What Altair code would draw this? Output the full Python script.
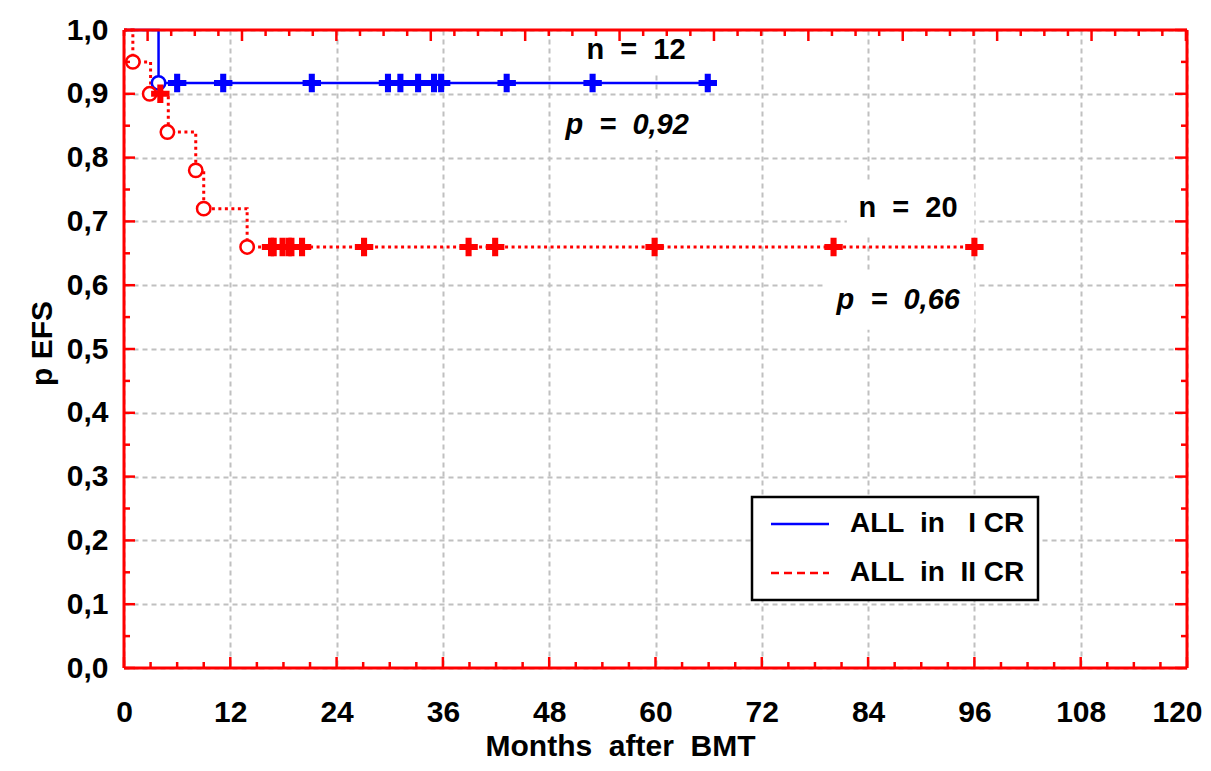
import altair as alt
import pandas as pd
import numpy as np

NB = "\u00a0"
S1 = "ALL" + NB * 2 + "in" + NB * 3 + "I CR"
S2 = "ALL" + NB * 2 + "in" + NB * 2 + "II CR"

# ---- data ----
blue_step_x = [0.0, 3.9, 65.9]
blue_step_y = [1.0, 0.917, 0.917]
blue_event_x = [3.9]
blue_event_y = [0.917]
blue_cens_x = [6.0, 11.2, 21.2, 29.8, 31.2, 33.2, 35.0, 35.8, 43.2, 52.9, 65.9]

red_step_x = [0.0, 1.0, 3.0, 5.0, 8.1, 9.0, 13.9, 96.0]
red_step_y = [1.0, 0.95, 0.90, 0.84, 0.78, 0.72, 0.66, 0.66]
red_event_x = [1.0, 2.9, 4.9, 8.1, 9.0, 13.9]
red_event_y = [0.95, 0.90, 0.84, 0.78, 0.72, 0.66]
red_cens_x = [4.1, 16.6, 16.9, 17.9, 18.6, 18.9, 20.1, 27.1, 38.9, 41.9, 59.9, 80.1, 96.0]
red_cens_y = [0.90] + [0.66] * 12

ann_text = ["n" + NB * 2 + "=" + NB * 2 + "12", "p" + NB * 2 + "=" + NB * 2 + "0,92",
            "n" + NB * 2 + "=" + NB * 2 + "20", "p" + NB * 2 + "=" + NB * 2 + "0,66"]
ann_x = [57.8, 56.8, 88.5, 87.4]
ann_y = [0.969, 0.851, 0.721, 0.577]
ann_italic = [False, True, False, True]
box_x = [50.7, 48.6, 81.6, 78.9]
box_x2 = [65.0, 65.6, 96.0, 96.0]
box_y = [1.0, 0.890, 0.760, 0.619]
box_y2 = [0.934, 0.812, 0.679, 0.530]

BLUE = "#0000ff"
RED = "#ff0000"
FONT = "Liberation Sans"
W, H = 1063, 638
FS = 30

steps = pd.DataFrame({
    "x": blue_step_x + red_step_x,
    "y": blue_step_y + red_step_y,
    "series": [S1] * len(blue_step_x) + [S2] * len(red_step_x),
})
events = pd.DataFrame({
    "x": blue_event_x + red_event_x,
    "y": blue_event_y + red_event_y,
    "series": [S1] * len(blue_event_x) + [S2] * len(red_event_x),
})
cens = pd.DataFrame({
    "x": blue_cens_x + red_cens_x,
    "y": [0.917] * len(blue_cens_x) + red_cens_y,
    "series": [S1] * len(blue_cens_x) + [S2] * len(red_cens_x),
})
ann = pd.DataFrame({"x": ann_x, "y": ann_y, "text": ann_text, "italic": ann_italic})
boxes = pd.DataFrame({"x": box_x, "x2": box_x2, "y": box_y, "y2": box_y2})
# legend-only rows, placed outside the x domain and clipped away
legend_rows = pd.DataFrame({"x": [200, 201, 200, 201], "y": [0.5, 0.5, 0.5, 0.5],
                            "series": [S1, S1, S2, S2]})

xs = alt.Scale(domain=[0, 120], nice=False, zero=False)
ys = alt.Scale(domain=[0, 1], nice=False, zero=False)

xaxis = alt.Axis(
    values=list(range(0, 121, 12)), title="Months" + NB * 2 + "after" + NB * 2 + "BMT",
    labelFont=FONT, labelFontSize=FS, labelFontWeight="bold", labelColor="black",
    labelPadding=44, labelBaseline="middle", labelFlush=False, labelOverlap=False,
    labelOffset={"condition": {"test": "datum.value == 120", "value": -10}, "value": 0},
    ticks=False, tickSize=0, domain=False,
    grid=True, gridColor="#c0c0c0", gridDash=[5, 4], gridWidth=2,
    titleFont=FONT, titleFontSize=FS, titleFontWeight="bold", titleColor="black",
    titleX=496, titleY=78, titleBaseline="middle",
)
yaxis = alt.Axis(
    values=[round(v * 0.1, 1) for v in range(11)], title="p EFS",
    labelExpr="replace(format(datum.value, '.1f'), '.', ',')",
    labelFont=FONT, labelFontSize=FS, labelFontWeight="bold", labelColor="black",
    labelPadding=16, labelFlush=False, labelOverlap=False,
    ticks=False, tickSize=0, domain=False,
    grid=True, gridColor="#c0c0c0", gridDash=[5, 4], gridWidth=2,
    titleFont=FONT, titleFontSize=FS, titleFontWeight="bold", titleColor="black",
    titleX=-82, titleY=313, titleBaseline="middle", titleAngle=-90,
)

X = lambda f="x": alt.X(f"{f}:Q", scale=xs, axis=xaxis)
Y = lambda f="y": alt.Y(f"{f}:Q", scale=ys, axis=yaxis)

col = alt.condition(alt.datum.series == S1, alt.value(BLUE), alt.value(RED))
dash = alt.condition(alt.datum.series == S1, alt.value([1, 0]), alt.value([3, 3.5]))
width = alt.condition(alt.datum.series == S1, alt.value(2.5), alt.value(3))

box_layer = alt.Chart(boxes).mark_rect(fill="white").encode(
    x=X(), x2="x2:Q", y=Y(), y2="y2:Q")

line_layer = alt.Chart(steps).mark_line(interpolate="step-after").encode(
    x=X(), y=Y(), detail="series:N", stroke=col, strokeDash=dash, strokeWidth=width)

legend_sym = "M-2.9,0H2.9"
legend_layer = alt.Chart(legend_rows).mark_line(clip=True, strokeWidth=2.5).encode(
    x=X(), y=Y(),
    color=alt.Color("series:N", scale=alt.Scale(domain=[S1, S2], range=[BLUE, RED]),
                    legend=alt.Legend(
                        title=None, orient="none", legendX=628, legendY=467,
                        symbolType=legend_sym, symbolSize=400, symbolStrokeWidth=2.5,
                        labelFont=FONT, labelFontSize=28, labelFontWeight="bold",
                        labelColor="black", labelLimit=500, labelOffset=36,
                        padding=13, rowPadding=21, strokeColor="black", fillColor="white",
                        symbolOffset=21)),
    strokeDash=alt.StrokeDash("series:N", scale=alt.Scale(domain=[S1, S2], range=[[1, 0], [8, 5]]),
                              legend=alt.Legend(title=None, orient="none", legendX=628, legendY=467,
                                                symbolType=legend_sym, symbolSize=400)),
)

event_layer = alt.Chart(events).mark_point(shape="circle", size=180, fill="white",
                                           filled=False, strokeWidth=2.5, opacity=1).encode(
    x=X(), y=Y(), stroke=col)

cross_path = "M-1,-0.33H-0.33V-1H0.33V-0.33H1V0.33H0.33V1H-0.33V0.33H-1Z"
cens_layer = alt.Chart(cens).mark_point(shape=cross_path, size=340, filled=True,
                                        opacity=1, strokeWidth=0).encode(
    x=X(), y=Y(), fill=col)

text_n = alt.Chart(ann[~ann.italic]).mark_text(
    font=FONT, fontSize=29, fontWeight="bold", color="black", align="center",
    baseline="middle").encode(x=X(), y=Y(), text="text:N")
text_p = alt.Chart(ann[ann.italic]).mark_text(
    font=FONT, fontSize=29, fontWeight="bold", fontStyle="italic", color="black",
    align="center", baseline="middle").encode(x=X(), y=Y(), text="text:N")

# inner tick marks (axis furniture)
bx = np.arange(0, 121, 3)
bt = pd.DataFrame({"x": bx, "major": bx % 12 == 0})
tk = np.arange(0, 46)
tt = pd.DataFrame({"x": tk * 2.664, "major": tk % 4 == 1})
yi = np.arange(0, 21)
lt = pd.DataFrame({"y": yi * 0.05, "major": yi % 2 == 0})

def rule(df, **kw):
    return alt.Chart(df).mark_rule(color=RED, strokeWidth=2.5).encode(**kw)

ticks = [
    rule(bt[bt.major], x=X(), y=alt.value(H), y2=alt.value(H - 11)),
    rule(bt[~bt.major], x=X(), y=alt.value(H), y2=alt.value(H - 6)),
    rule(tt[tt.major], x=X(), y=alt.value(0), y2=alt.value(11)),
    rule(tt[~tt.major], x=X(), y=alt.value(0), y2=alt.value(6)),
    rule(lt[lt.major], y=Y(), x=alt.value(0), x2=alt.value(11)),
    rule(lt[~lt.major], y=Y(), x=alt.value(0), x2=alt.value(6)),
    rule(lt[lt.major], y=Y(), x=alt.value(W), x2=alt.value(W - 12)),
    rule(lt[~lt.major], y=Y(), x=alt.value(W), x2=alt.value(W - 6)),
]

frame_df = pd.DataFrame({"side": ["t"]})
frame = [
    alt.Chart(frame_df).mark_rule(color=RED, strokeWidth=3).encode(
        x=alt.value(0), x2=alt.value(W), y=alt.value(0)),
    alt.Chart(frame_df).mark_rule(color=RED, strokeWidth=3).encode(
        x=alt.value(0), x2=alt.value(W), y=alt.value(H)),
    alt.Chart(frame_df).mark_rule(color=RED, strokeWidth=3).encode(
        y=alt.value(0), y2=alt.value(H), x=alt.value(0)),
    alt.Chart(frame_df).mark_rule(color=RED, strokeWidth=3).encode(
        y=alt.value(0), y2=alt.value(H), x=alt.value(W)),
]

chart = alt.layer(box_layer, line_layer, legend_layer, event_layer, cens_layer, text_n, text_p,
                  *ticks, *frame).properties(
    width=W, height=H,
    autosize=alt.AutoSizeParams(type="none"),
    padding={"left": 116, "top": 22, "right": 16, "bottom": 95},
    background="white",
).configure_view(stroke=None).configure_legend(strokeWidth=2.5)

chart.save("out.html", embed_options={"renderer": "svg", "actions": False})
